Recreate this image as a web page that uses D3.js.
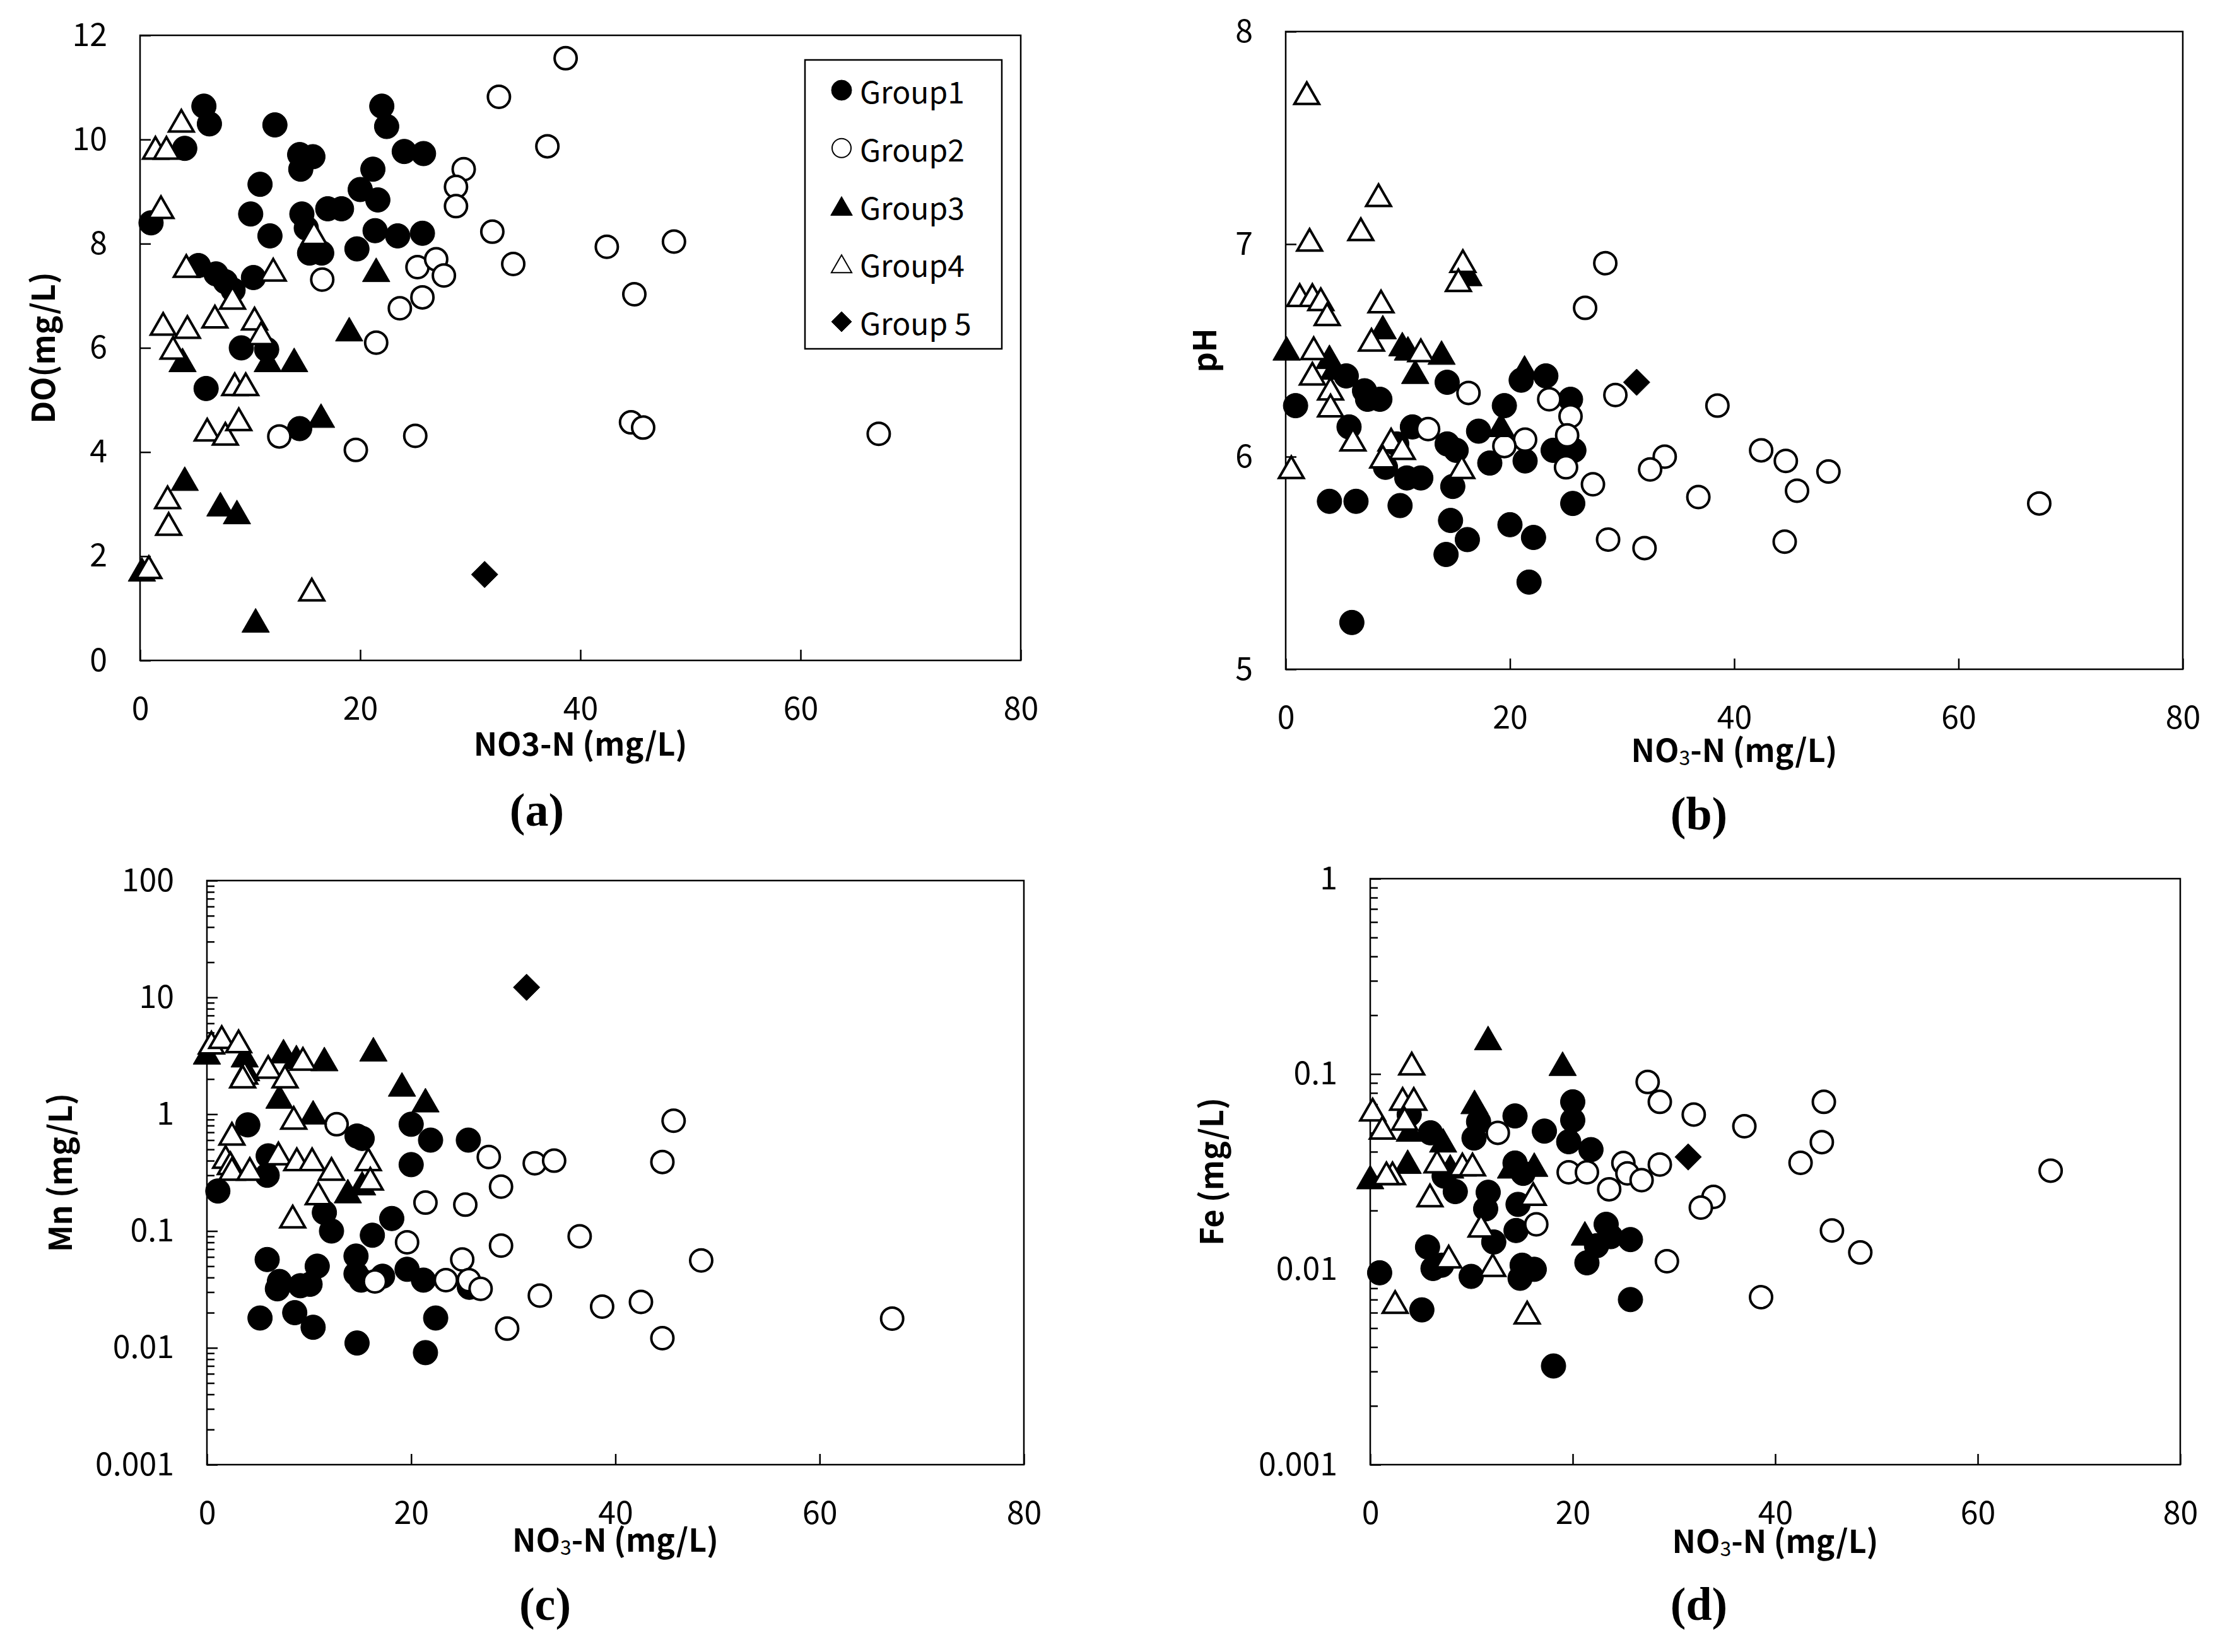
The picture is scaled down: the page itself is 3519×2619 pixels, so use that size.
<!DOCTYPE html>
<html>
<head>
<meta charset="utf-8">
<script src="https://cdn.jsdelivr.net/npm/d3@7"></script>
<style>
body { margin: 0; background: #fff; }
svg text { fill: #000; }
</style>
</head>
<body>
<svg id="chart" width="3519" height="2619"></svg>
<script>
// group names, in legend order
var groupNames = ['Group1', 'Group2', 'Group3', 'Group4', 'Group 5'];

// (a) NO3-N vs DO, one array per group, [NO3-N, DO]
var do_g1 = [[5.8,10.64],[6.3,10.3],[4.06,9.83],[12.25,10.28],[14.5,9.71],[15.7,9.67],[14.6,9.43],[21.96,10.64],[22.4,10.25],[24.0,9.77],[25.75,9.73],[21.15,9.43],[20.0,9.04],[21.6,8.84],[10.9,9.14],[10.05,8.57],[1.0,8.4],[11.8,8.15],[14.7,8.57],[15.1,8.3],[17.05,8.67],[18.3,8.67],[19.7,7.9],[21.35,8.25],[23.4,8.15],[25.65,8.2],[15.4,7.82],[16.5,7.82],[5.3,7.58],[6.9,7.42],[7.75,7.27],[8.45,7.11],[10.3,7.35],[9.2,6.0],[11.5,5.97],[6.0,5.22],[14.5,4.45]];
var do_g2 = [[29.4,9.43],[28.7,9.09],[28.7,8.72],[16.55,7.31],[25.2,7.55],[26.9,7.7],[27.6,7.39],[25.65,6.97],[23.6,6.76],[21.45,6.1],[12.65,4.3],[19.6,4.04],[25.0,4.31],[38.66,11.56],[32.6,10.82],[37.0,9.87],[32.0,8.23],[33.9,7.61],[42.4,7.94],[48.5,8.04],[44.9,7.03],[44.6,4.57],[45.7,4.47],[67.1,4.35]];
var do_g3 = [[21.45,7.5],[19.0,6.36],[3.86,5.77],[11.6,5.77],[14.0,5.77],[16.44,4.7],[4.06,3.49],[7.3,3.0],[8.8,2.85],[0.17,1.75],[10.5,0.77]];
var do_g4 = [[3.75,10.36],[1.4,9.84],[2.4,9.84],[1.9,8.7],[4.2,7.57],[12.1,7.5],[15.8,8.2],[2.1,6.46],[4.3,6.4],[6.8,6.6],[10.4,6.56],[11.0,6.28],[3.0,6.0],[8.4,6.96],[8.6,5.3],[9.6,5.3],[6.1,4.43],[7.75,4.35],[8.97,4.63],[2.5,3.13],[2.6,2.62],[0.8,1.79],[15.6,1.36]];
var do_g5 = [[31.3,1.65]];

// (b) NO3-N vs pH
var ph_g1 = [[0.88,6.24],[5.4,6.38],[7.03,6.31],[7.3,6.27],[8.4,6.27],[5.65,6.14],[3.9,5.79],[6.27,5.79],[14.4,6.35],[11.3,6.14],[17.2,6.12],[19.5,6.24],[23.2,6.38],[21.0,6.36],[25.4,6.27],[9.9,6.06],[14.4,6.06],[15.2,6.03],[23.85,6.03],[25.7,6.03],[21.35,5.98],[18.2,5.97],[8.9,5.95],[10.8,5.9],[12.05,5.9],[14.9,5.86],[10.2,5.77],[25.6,5.78],[14.7,5.7],[20.0,5.68],[16.2,5.61],[14.3,5.54],[22.1,5.62],[21.7,5.41],[5.9,5.22]];
var ph_g2 = [[28.5,6.91],[26.7,6.7],[16.3,6.3],[12.7,6.13],[29.4,6.29],[23.5,6.27],[25.4,6.19],[25.1,6.1],[21.35,6.08],[19.5,6.05],[25.0,5.95],[33.8,6.0],[32.5,5.94],[27.4,5.87],[28.75,5.61],[32.0,5.57],[36.8,5.81],[38.5,6.24],[42.4,6.03],[44.6,5.98],[45.6,5.84],[48.4,5.93],[44.5,5.6],[67.2,5.78]];
var ph_g3 = [[0.08,6.51],[3.9,6.47],[4.3,6.42],[8.66,6.61],[10.4,6.53],[10.9,6.51],[11.55,6.4],[13.9,6.49],[16.3,6.86],[21.3,6.42],[19.2,6.15]];
var ph_g4 = [[1.88,7.71],[8.28,7.23],[2.13,7.02],[6.7,7.07],[15.8,6.92],[15.4,6.83],[1.25,6.76],[2.38,6.76],[3.13,6.74],[3.7,6.67],[8.5,6.73],[2.5,6.51],[7.65,6.55],[2.38,6.39],[4.0,6.32],[4.0,6.24],[12.05,6.5],[6.0,6.08],[9.4,6.08],[10.4,6.04],[8.66,6.0],[15.7,5.95],[0.5,5.95]];
var ph_g5 = [[31.3,6.35]];

// (c) NO3-N vs Mn
var mn_g1 = [[4.0,0.81],[1.07,0.22],[6.0,0.44],[5.9,0.30],[14.7,0.65],[15.2,0.62],[20.0,0.82],[21.9,0.6],[25.6,0.6],[20.0,0.37],[11.5,0.144],[12.2,0.1],[18.1,0.128],[16.2,0.092],[5.9,0.057],[10.8,0.05],[14.6,0.061],[7.1,0.037],[6.9,0.032],[9.15,0.034],[10.1,0.035],[14.6,0.043],[15.1,0.038],[17.2,0.041],[19.6,0.047],[21.2,0.038],[25.7,0.033],[5.2,0.018],[8.6,0.02],[10.4,0.015],[22.4,0.018],[14.7,0.011],[21.4,0.0091]];
var mn_g2 = [[12.7,0.82],[27.6,0.43],[32.1,0.38],[34.0,0.4],[28.8,0.24],[21.4,0.175],[25.3,0.168],[19.6,0.08],[28.8,0.075],[36.5,0.09],[25.0,0.057],[16.45,0.037],[23.4,0.038],[25.65,0.038],[26.8,0.032],[32.6,0.028],[29.4,0.0146],[45.7,0.88],[44.6,0.39],[48.4,0.056],[38.7,0.0225],[42.5,0.0247],[44.6,0.0121],[67.1,0.0178]];
var mn_g3 = [[0,3.39],[3.7,3.2],[3.85,2.44],[7.5,3.47],[8.76,3.09],[11.5,2.97],[16.3,3.6],[19.1,1.8],[21.4,1.32],[7.1,1.42],[10.4,1.04],[13.8,0.22],[15.2,0.257]];
var mn_g4 = [[0.44,4.1],[1.45,4.57],[3.1,4.2],[3.7,2.26],[3.5,2.1],[6.0,2.54],[7.65,2.1],[9.4,2.97],[8.5,0.93],[2.45,0.68],[1.83,0.43],[2.3,0.38],[2.45,0.34],[4.2,0.34],[7.0,0.46],[8.8,0.41],[10.3,0.41],[12.2,0.34],[15.8,0.41],[16.0,0.28],[10.9,0.21],[8.4,0.133]];
var mn_g5 = [[31.3,12.2]];

// (d) NO3-N vs Fe
var fe_g1 = [[20.0,0.072],[20.0,0.058],[14.3,0.061],[10.7,0.057],[10.25,0.047],[17.2,0.051],[19.6,0.045],[21.8,0.041],[5.95,0.05],[3.85,0.062],[7.3,0.030],[8.4,0.025],[14.3,0.035],[15.1,0.031],[11.65,0.0248],[11.4,0.0204],[14.6,0.0215],[12.2,0.0138],[14.4,0.0158],[23.3,0.017],[23.75,0.0147],[25.7,0.0142],[22.35,0.0132],[21.4,0.0108],[5.66,0.013],[6.2,0.0101],[7.05,0.0105],[9.97,0.0092],[15.0,0.0105],[16.2,0.010],[14.8,0.009],[0.93,0.0096],[5.1,0.0062],[25.7,0.007],[18.1,0.0032]];
var fe_g2 = [[27.4,0.091],[28.6,0.072],[31.95,0.062],[36.95,0.054],[12.6,0.05],[25.0,0.035],[25.4,0.031],[28.6,0.0344],[19.6,0.0314],[21.4,0.0314],[23.6,0.0257],[26.8,0.0286],[16.4,0.017],[33.9,0.0235],[32.65,0.0207],[29.3,0.011],[38.6,0.0072],[44.8,0.072],[44.6,0.0448],[42.5,0.0351],[45.6,0.0158],[48.4,0.0122],[67.2,0.032]];
var fe_g3 = [[11.64,0.153],[19.0,0.113],[10.3,0.072],[3.9,0.052],[7.2,0.0458],[3.7,0.0356],[0,0.0297],[7.9,0.0337],[13.9,0.0337],[16.2,0.0344],[21.2,0.0153]];
var fe_g4 = [[4.1,0.113],[3.2,0.0745],[4.3,0.0745],[0.24,0.0656],[1.2,0.053],[3.4,0.059],[2.2,0.031],[1.6,0.031],[6.6,0.0356],[9.1,0.0344],[10.1,0.0344],[5.9,0.0239],[16.1,0.0243],[10.95,0.0167],[7.75,0.0116],[12.1,0.0105],[2.46,0.0068],[15.5,0.006]];
var fe_g5 = [[31.4,0.0376]];

var xTicks = [0, 20, 40, 60, 80];

var sansFont = '"Noto Sans CJK KR", "Noto Sans", sans-serif';
var serifFont = '"Liberation Serif", "DejaVu Serif", serif';

// custom marker shapes (size = half extent squared)
var shapeCircle = { draw: function(ctx, s) { var r = Math.sqrt(s); ctx.moveTo(r, 0); ctx.arc(0, 0, r, 0, 2 * Math.PI); } };
var shapeTriangle = { draw: function(ctx, s) { var h = Math.sqrt(s); ctx.moveTo(0, -h); ctx.lineTo(h * 1.15, h); ctx.lineTo(-h * 1.15, h); ctx.closePath(); } };
var shapeDiamond = { draw: function(ctx, s) { var h = Math.sqrt(s); ctx.moveTo(0, -h); ctx.lineTo(h, 0); ctx.lineTo(0, h); ctx.lineTo(-h, 0); ctx.closePath(); } };

var styles = [
    { type: shapeCircle, r: 19.5, fill: '#000', sw: 1, lr: 16, lsw: 1 },
    { type: shapeCircle, r: 17.5, fill: '#fff', sw: 4, lr: 15, lsw: 2 },
    { type: shapeTriangle, r: 19, fill: '#000', sw: 1, lr: 15, lsw: 1 },
    { type: shapeTriangle, r: 17, fill: '#fff', sw: 4, lr: 14, lsw: 2 },
    { type: shapeDiamond, r: 21, fill: '#000', sw: 1, lr: 16, lsw: 1 }
];

var svg = d3.select('#chart');

var panels = [
    { series: [do_g1, do_g2, do_g3, do_g4, do_g5], box: [222, 1618, 56, 1047], log: false, yDomain: [0, 12],
      yTicks: [0, 2, 4, 6, 8, 10, 12], yTitle: 'DO(mg/L)', yTitleX: 65, xTitle: 'NO3-N (mg/L)', sub: false,
      xTitleY: 1176, letter: '(a)', letterX: 851, letterY: 1284, legend: true },
    { series: [ph_g1, ph_g2, ph_g3, ph_g4, ph_g5], box: [2038, 3460, 50, 1061], log: false, yDomain: [5, 8],
      yTicks: [5, 6, 7, 8], yTitle: 'pH', yTitleX: 1906, sub: true,
      xTitleY: 1186, letter: '(b)', letterX: 2693, letterY: 1290 },
    { series: [mn_g1, mn_g2, mn_g3, mn_g4, mn_g5], box: [328, 1623, 1396, 2322], log: true, yDomain: [0.001, 100],
      yTitle: 'Mn (mg/L)', yTitleX: 92, sub: true,
      xTitleY: 2438, letter: '(c)', letterX: 864, letterY: 2543 },
    { series: [fe_g1, fe_g2, fe_g3, fe_g4, fe_g5], box: [2172, 3456, 1393, 2322], log: true, yDomain: [0.001, 1],
      yTitle: 'Fe (mg/L)', yTitleX: 1917, sub: true,
      xTitleY: 2440, letter: '(d)', letterX: 2693, letterY: 2543 }
];

function isPow10(v) {
    var l = Math.log10(v);
    return Math.abs(l - Math.round(l)) < 1e-9;
}

panels.forEach(function(p) {
    var x = d3.scaleLinear().domain([0, 80]).range([p.box[0], p.box[1]]);
    var y = p.log ? d3.scaleLog().domain(p.yDomain).range([p.box[3], p.box[2]])
                  : d3.scaleLinear().domain(p.yDomain).range([p.box[3], p.box[2]]);
    var g = svg.append('g');

    // y axis, ticks inward
    var yAxis = d3.axisLeft(y).tickSizeOuter(0).tickSizeInner(-18).tickPadding(52);
    if (p.log) {
        yAxis.tickValues(y.ticks()).tickFormat(function(d) {
            return isPow10(d) ? String(+d.toPrecision(1)) : '';
        });
    } else {
        yAxis.tickValues(p.yTicks).tickFormat(d3.format('d'));
    }
    var ya = g.append('g').attr('transform', 'translate(' + p.box[0] + ',0)').call(yAxis);
    ya.select('.domain').remove();
    ya.selectAll('line').attr('stroke-width', 2.5)
        .attr('x2', function(d) { return (p.log && !isPow10(d)) ? 12 : 17; });
    ya.selectAll('text').style('font-family', sansFont).style('font-size', '50px');

    var xa = g.append('g').attr('transform', 'translate(0,' + p.box[3] + ')')
        .call(d3.axisBottom(x).tickValues(xTicks).tickSizeOuter(0).tickSizeInner(-17));
    xa.select('.domain').remove();
    xa.selectAll('line').attr('stroke-width', 2.5);
    xa.selectAll('text').style('font-family', sansFont).style('font-size', '50px')
        .attr('y', 76).attr('dy', '0.35em');

    // plot frame
    g.append('rect')
        .attr('x', p.box[0]).attr('y', p.box[2])
        .attr('width', p.box[1] - p.box[0]).attr('height', p.box[3] - p.box[2])
        .attr('fill', 'none').attr('stroke', '#000').attr('stroke-width', 2.5);

    // markers
    p.series.forEach(function(data, i) {
        var st = styles[i];
        g.append('g').selectAll('path').data(data).enter().append('path')
            .attr('d', d3.symbol().type(st.type).size(st.r * st.r))
            .attr('transform', function(d) { return 'translate(' + x(d[0]) + ',' + y(d[1]) + ')'; })
            .attr('fill', st.fill).attr('stroke', '#000').attr('stroke-width', st.sw);
    });

    // axis titles
    var xt = g.append('text')
        .attr('x', (p.box[0] + p.box[1]) / 2).attr('y', p.xTitleY)
        .attr('text-anchor', 'middle').attr('dominant-baseline', 'central')
        .style('font-family', sansFont).style('font-size', '50px').style('font-weight', 'bold');
    if (p.sub) {
        xt.append('tspan').text('NO');
        xt.append('tspan').text('3').style('font-size', '32px').style('font-weight', 'normal').attr('dy', 13);
        xt.append('tspan').text('-N (mg/L)').attr('dy', -13);
    } else {
        xt.text(p.xTitle);
    }

    var cy = (p.box[2] + p.box[3]) / 2;
    g.append('text')
        .attr('transform', 'translate(' + p.yTitleX + ',' + cy + ') rotate(-90)')
        .attr('text-anchor', 'middle').attr('dominant-baseline', 'central')
        .style('font-family', sansFont).style('font-size', '50px').style('font-weight', 'bold')
        .text(p.yTitle);

    g.append('text')
        .attr('x', p.letterX).attr('y', p.letterY)
        .attr('text-anchor', 'middle').attr('dominant-baseline', 'central')
        .style('font-family', serifFont).style('font-size', '74px').style('font-weight', 'bold')
        .text(p.letter);

    if (p.legend) {
        var lg = g.append('g');
        lg.append('rect').attr('x', 1276).attr('y', 95).attr('width', 312).attr('height', 458)
            .attr('fill', '#fff').attr('stroke', '#000').attr('stroke-width', 2.5);
        var rowY = d3.scalePoint().domain(groupNames).range([143, 510]);
        groupNames.forEach(function(name, i) {
            var st = styles[i];
            lg.append('path')
                .attr('d', d3.symbol().type(st.type).size(st.lr * st.lr))
                .attr('transform', 'translate(1334,' + rowY(name) + ')')
                .attr('fill', st.fill).attr('stroke', '#000').attr('stroke-width', st.lsw);
            lg.append('text')
                .attr('x', 1363).attr('y', rowY(name))
                .attr('dominant-baseline', 'central')
                .style('font-family', sansFont).style('font-size', '48px')
                .text(name);
        });
    }
});
</script>
</body>
</html>
